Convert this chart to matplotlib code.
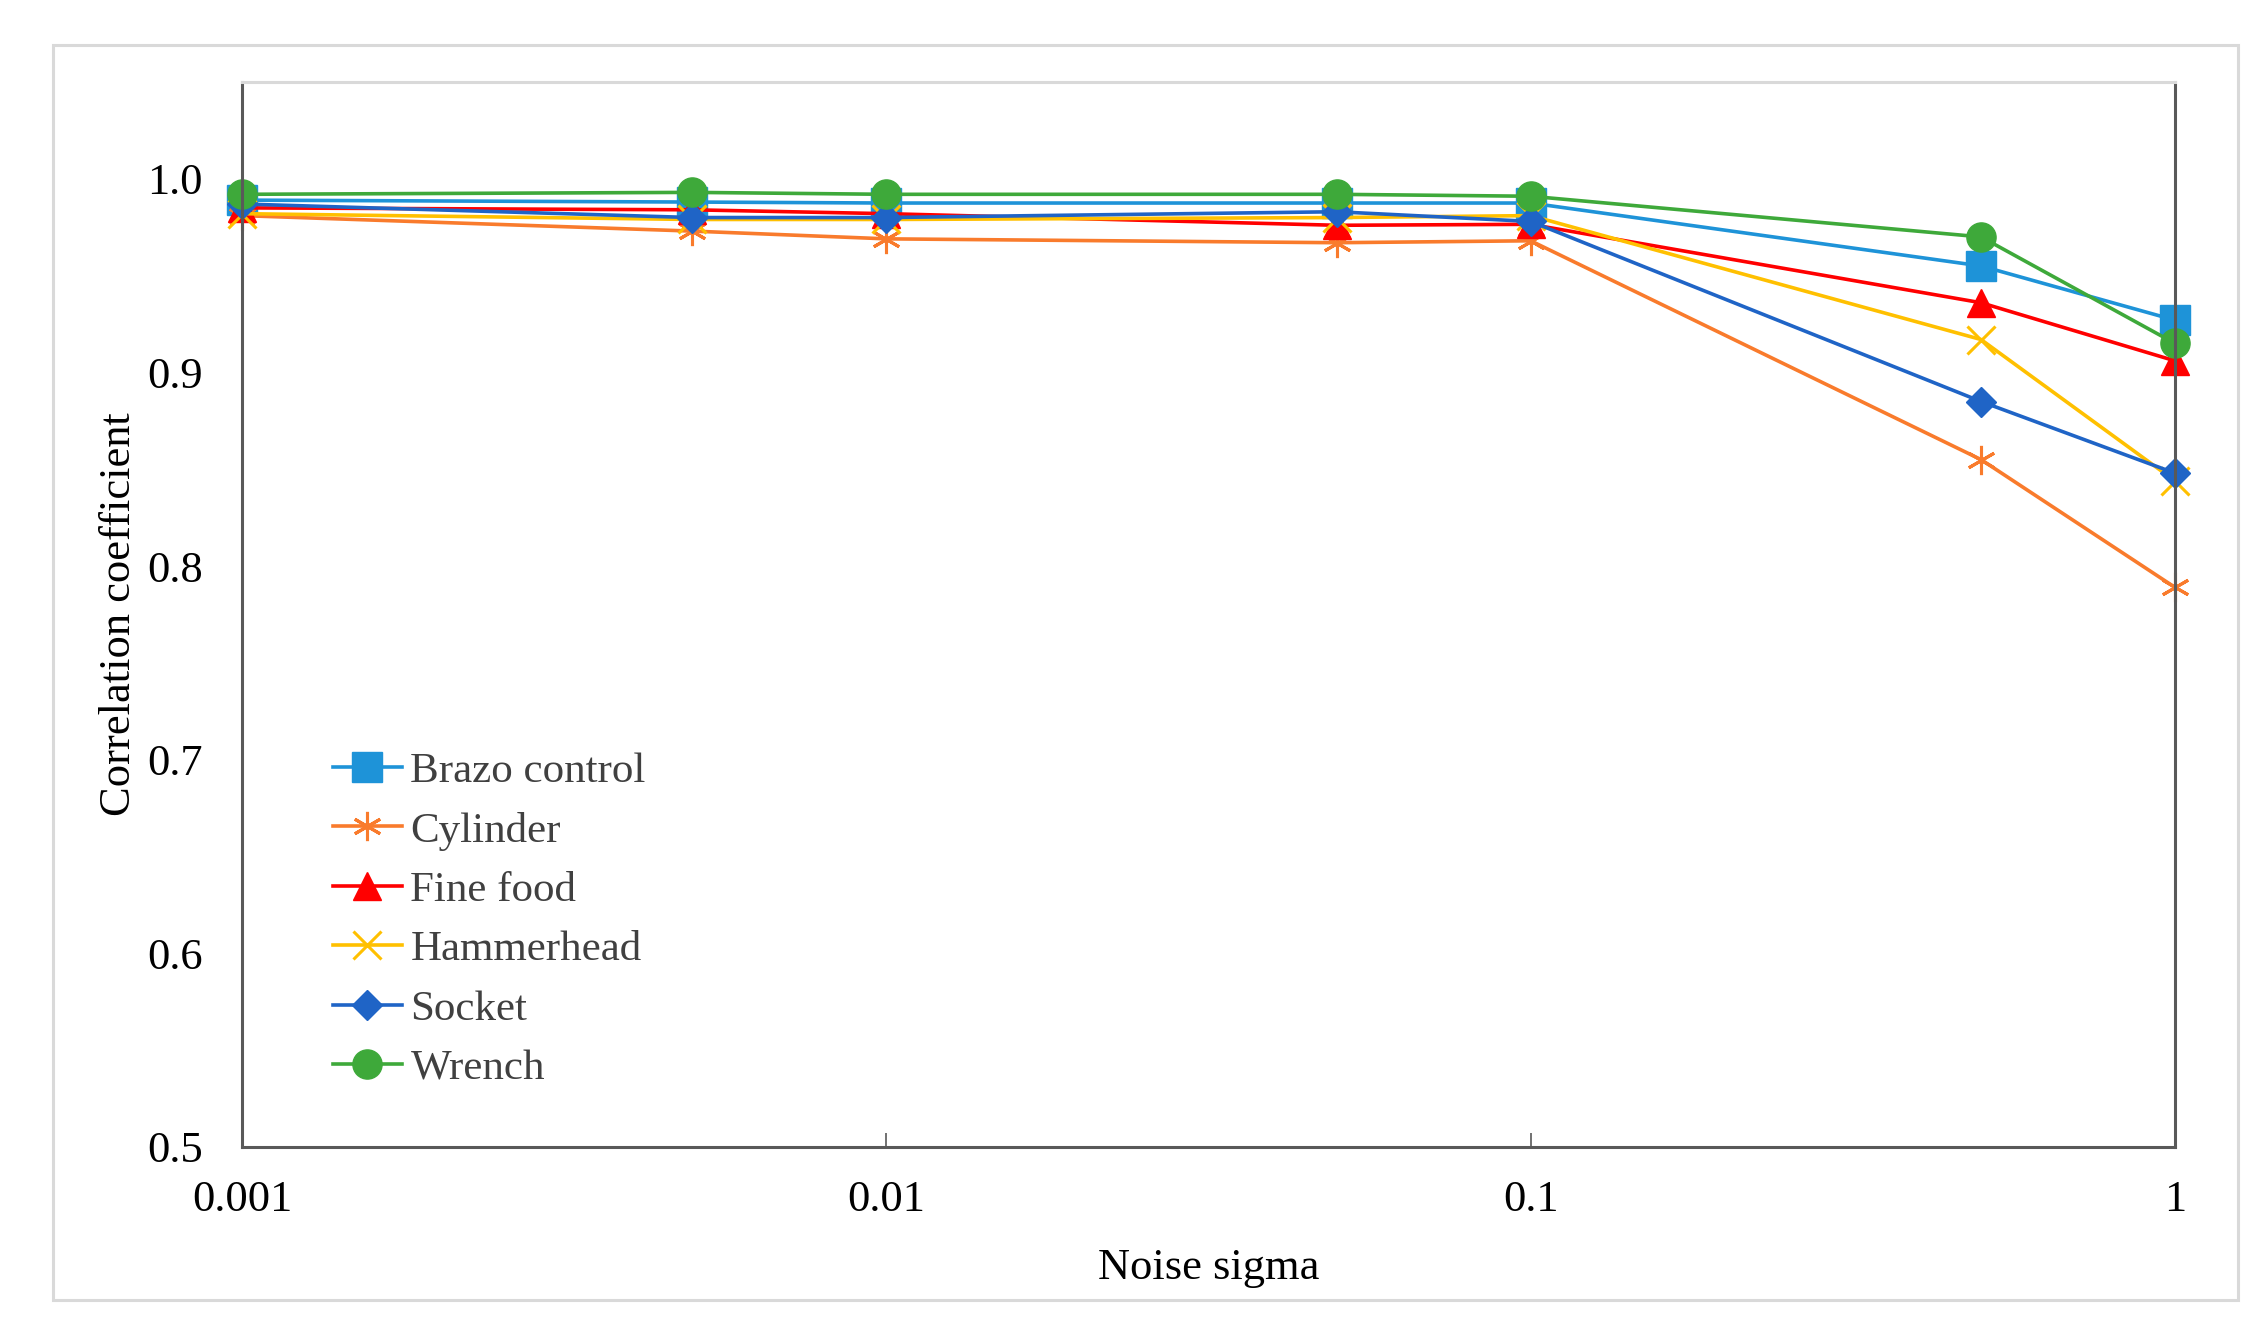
import matplotlib
matplotlib.use("Agg")
import matplotlib.pyplot as plt
from matplotlib.patches import Rectangle
from matplotlib.ticker import FixedLocator, FixedFormatter, NullLocator

plt.rcParams['font.family'] = ['Liberation Serif', 'DejaVu Serif']

noise_sigma = [0.001, 0.005, 0.01, 0.05, 0.1, 0.5, 1]
series_names = ["Brazo control", "Cylinder", "Fine food", "Hammerhead", "Socket", "Wrench"]
brazo_control = [0.989, 0.988, 0.9875, 0.9875, 0.9875, 0.955, 0.927]
cylinder = [0.981, 0.973, 0.969, 0.967, 0.968, 0.855, 0.789]
fine_food = [0.985, 0.984, 0.982, 0.976, 0.9765, 0.936, 0.906]
hammerhead = [0.982, 0.979, 0.979, 0.980, 0.981, 0.917, 0.844]
socket = [0.987, 0.980, 0.980, 0.983, 0.978, 0.885, 0.848]
wrench = [0.992, 0.993, 0.992, 0.992, 0.991, 0.970, 0.915]
x_tick_values = [0.001, 0.01, 0.1, 1]
x_tick_labels = ["0.001", "0.01", "0.1", "1"]
y_tick_values = [0.5, 0.6, 0.7, 0.8, 0.9, 1.0]
y_tick_labels = ["0.5", "0.6", "0.7", "0.8", "0.9", "1.0"]

series_values = [brazo_control, cylinder, fine_food, hammerhead, socket, wrench]
colors = ["#1E93D8", "#F97B2C", "#FF0000", "#FFC000", "#1F64C6", "#3EA93A"]
markers = ["s", (6, 2, 0), "^", "x", "D", "o"]
msizes = [21, 21, 20, 20, 15, 21]
mews = [1, 2.2, 1, 2.2, 1, 1]

W, H = 2262, 1331
fig = plt.figure(figsize=(W / 100, H / 100), dpi=100)
fig.patch.set_facecolor("white")

# outer light frame
fig.patches.append(Rectangle((53 / W, 1 - 1300 / H), (2238 - 53) / W, (1300 - 45) / H,
                             transform=fig.transFigure, fill=False,
                             edgecolor="#d9d9d9", linewidth=2.2, zorder=0))

left, right, top, bottom = 242, 2175, 82, 1147
ax = fig.add_axes([left / W, 1 - bottom / H, (right - left) / W, (bottom - top) / H])

for name, vals, c, m, ms, mew in zip(series_names, series_values, colors, markers, msizes, mews):
    ax.plot(noise_sigma, vals, color=c, marker=m, markersize=ms, markeredgewidth=mew,
            markeredgecolor=c, markerfacecolor=c, linewidth=2.6, label=name, clip_on=False)

ax.set_xscale("log")
ax.set_xlim(0.001, 1)
ax.set_ylim(0.5, 1.05)
ax.xaxis.set_major_locator(FixedLocator(x_tick_values))
ax.xaxis.set_major_formatter(FixedFormatter(x_tick_labels))
ax.xaxis.set_minor_locator(NullLocator())
ax.yaxis.set_major_locator(FixedLocator(y_tick_values))
ax.yaxis.set_major_formatter(FixedFormatter(y_tick_labels))
ax.yaxis.set_minor_locator(NullLocator())

ax.tick_params(axis="x", direction="in", length=10, width=1.2, color="#595959",
               labelsize=32, pad=24, labelcolor="black")
ax.tick_params(axis="y", length=0, labelsize=32, pad=28, labelcolor="black")

for s in ["left", "bottom", "right"]:
    ax.spines[s].set_color("#595959")
    ax.spines[s].set_linewidth(2.2)
ax.spines["top"].set_color("#d9d9d9")
ax.spines["top"].set_linewidth(2.2)

ax.set_xlabel("Noise sigma", fontsize=32, labelpad=20)
ax.set_ylabel("Correlation coefficient", fontsize=32, labelpad=6)

leg = ax.legend(loc="upper left", bbox_to_anchor=(333 / W, 1 - 752 / H),
                bbox_transform=fig.transFigure, frameon=False, fontsize=31,
                handlelength=1.6, handletextpad=0.2, labelspacing=0.47,
                borderpad=0, borderaxespad=0)
for t in leg.get_texts():
    t.set_color("#404040")

fig.savefig("out.png", dpi=100, facecolor="white")
